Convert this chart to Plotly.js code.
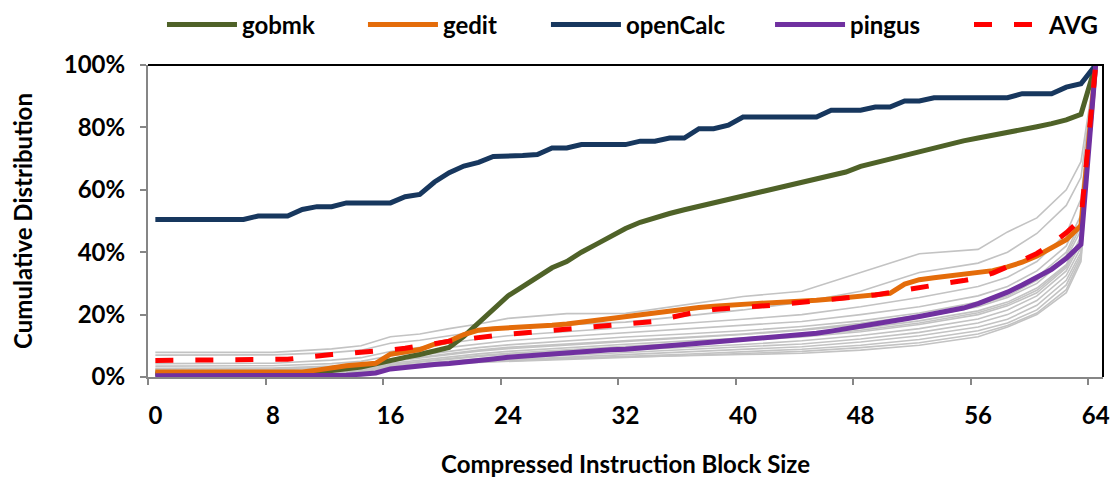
<!DOCTYPE html>
<html><head><meta charset="utf-8">
<script src="https://cdn.plot.ly/plotly-3.0.1.min.js"></script>
<style>html,body{margin:0;padding:0;background:#fff}</style>
</head><body><div id="chart" style="width:1111px;height:478px"></div>
<script>
// Compressed instruction block size categories
const blockSizes = [0,1,2,3,4,5,6,7,8,9,10,11,12,13,14,15,16,17,18,19,20,21,22,23,24,25,26,27,28,29,30,31,32,33,34,35,36,37,38,39,40,41,42,43,44,45,46,47,48,49,50,51,52,53,54,55,56,57,58,59,60,61,62,63,64];
const xTickVals = [0,8,16,24,32,40,48,56,64];
const yTickVals = [0,20,40,60,80,100];
const yTickText = ['0%','20%','40%','60%','80%','100%'];

const gobmk = [1.0,1.0,1.0,1.0,1.0,1.0,1.0,1.0,1.0,1.0,1.0,
  1.5,2.0,2.6,3.2,4.2,5.4,6.3,7.2,8.2,9.5,
  13.0,17.5,21.5,26.0,29.0,32.1,35.0,37.0,40.0,42.5,
  45.0,47.6,49.6,51.2,52.4,53.6,54.7,56.0,57.0,58.0,
  59.0,60.0,61.2,62.3,63.3,64.6,65.7,67.5,68.7,70.0,
  71.2,72.5,73.7,74.7,75.7,76.6,77.4,78.2,79.2,80.2,
  81.2,82.4,84.2,100];
const gedit = [1.6,1.6,1.6,1.6,1.6,1.6,1.6,1.6,1.6,1.6,1.6,
  2.2,3.0,3.6,4.0,4.4,7.3,8.0,8.8,10.5,11.5,
  13.6,15.0,15.5,15.7,16.0,16.2,16.6,17.0,17.6,18.3,
  19.0,19.5,20.0,20.5,21.2,21.8,22.3,22.7,23.1,23.4,
  23.6,23.8,24.0,24.3,24.6,25.0,25.4,25.8,26.2,26.8,
  29.8,31.2,31.8,32.3,32.8,33.3,34.1,35.3,36.8,38.8,
  41.2,44.0,48.5,100];
const openCalc = [50.5,50.5,50.5,50.5,50.5,50.5,50.5,
  51.6,51.6,51.6,
  53.7,54.6,54.6,
  55.8,55.8,55.8,55.8,
  57.8,58.5,62.5,65.5,67.6,68.8,70.7,70.7,71.0,71.3,
  73.4,73.4,74.5,74.5,74.5,74.5,75.6,75.6,76.6,76.6,
  79.6,79.6,80.7,83.3,83.3,83.3,83.3,83.3,83.3,
  85.5,85.5,85.5,86.5,86.5,88.5,88.5,
  89.5,89.5,89.5,89.5,89.5,89.5,
  90.8,90.8,90.8,92.9,94.0,100];
const pingus = [0.4,0.4,0.4,0.4,0.4,0.4,0.4,0.4,0.4,0.4,0.4,0.4,0.4,
  0.6,0.9,1.3,2.6,3.2,3.6,4.0,4.3,4.7,5.1,
  5.8,6.3,6.7,7.1,7.5,7.9,8.2,8.5,8.7,8.9,
  9.2,9.5,9.9,10.4,10.8,11.2,11.6,12.0,12.3,12.6,
  13.0,13.4,14.0,14.7,15.4,16.2,16.9,17.7,18.6,19.4,
  20.2,21.1,22.1,23.5,25.2,27.2,29.5,32.0,34.5,38.0,
  42.5,100];
const avg = [5.3,5.3,5.3,5.3,5.3,5.3,5.3,5.3,5.3,
  5.7,6.2,6.8,7.2,7.5,7.8,8.2,8.7,9.2,9.8,
  10.7,11.5,12.2,12.6,13.2,13.7,14.1,14.6,15.0,15.4,
  15.8,16.4,16.9,17.2,17.4,17.8,19.0,20.2,21.0,21.6,
  22.1,22.4,22.7,23.0,23.4,23.8,24.2,24.7,25.3,25.8,
  26.3,27.0,28.0,28.8,29.5,30.2,30.9,31.8,33.3,35.2,
  37.4,39.6,42.6,46.2,50.5,100];

// Other benchmarks (grey), read at these block sizes
const otherSizes = [0,8,12,14,16,18,20,22,24,28,32,36,40,44,48,52,56,58,60,62,63,64];
const other01 = [7.9,7.9,9.0,10.0,12.9,13.8,15.5,17.0,18.8,20.3,20.4,23.2,25.8,27.5,33.6,39.5,40.9,46.5,51.0,60.0,69.0,100];
const other02 = [7.0,7.1,7.8,8.6,10.8,11.8,13.2,14.5,15.8,16.8,17.6,19.5,21.5,24.0,27.5,33.5,36.5,40.0,46.0,55.0,64.0,100];
const other03 = [4.3,4.4,5.4,6.2,8.2,9.6,11.0,12.2,13.2,14.5,15.8,17.0,18.5,20.0,22.5,25.5,29.0,32.0,37.0,46.0,57.0,100];
const other04 = [3.5,3.6,4.3,5.0,6.8,8.0,9.5,10.6,11.6,13.0,14.2,15.2,16.4,17.8,20.0,22.5,26.0,29.0,34.0,42.0,52.0,100];
const other05 = [2.8,2.9,3.5,4.1,5.8,7.0,8.3,9.4,10.3,11.6,12.8,13.8,14.8,16.2,18.0,20.5,24.0,27.0,32.0,40.0,50.0,100];
const other06 = [2.2,2.3,2.8,3.4,5.0,6.1,7.3,8.3,9.1,10.3,11.5,12.5,13.6,15.0,16.8,19.0,22.5,25.5,30.0,38.0,47.0,100];
const other07 = [1.8,1.9,2.3,2.9,4.4,5.4,6.5,7.4,8.2,9.4,10.5,11.5,12.5,13.8,15.6,18.0,21.2,24.0,28.5,36.0,45.0,100];
const other08 = [1.5,1.6,2.0,2.5,3.9,4.8,5.8,6.6,7.3,8.4,9.4,10.4,11.5,12.8,14.5,16.8,20.0,22.8,27.0,35.0,44.0,100];
const other09 = [1.3,1.4,1.7,2.1,3.5,4.3,5.2,5.9,6.6,7.6,8.5,9.4,10.4,11.6,13.3,15.5,18.6,21.5,26.0,34.0,43.0,100];
const other10 = [1.1,1.2,1.5,1.9,3.2,4.0,4.8,5.4,6.0,6.9,7.7,8.6,9.5,10.6,12.2,14.3,17.3,20.0,24.5,32.5,41.5,100];
const other11 = [1.0,1.0,1.3,1.7,3.0,3.7,4.5,5.0,5.5,6.3,7.1,7.9,8.7,9.7,11.2,13.2,16.0,18.5,23.0,31.0,40.0,100];
const other12 = [0.8,0.9,1.1,1.5,2.8,3.5,4.3,4.8,5.2,5.9,6.6,7.3,8.0,8.9,10.2,12.0,14.8,17.3,21.5,29.5,39.0,100];
const other13 = [0.7,0.8,1.0,1.4,2.7,3.4,4.2,4.7,5.0,5.6,6.2,6.8,7.4,8.2,9.4,11.0,13.8,16.5,20.5,28.0,38.0,100];
const other14 = [1.2,1.3,1.6,2.0,3.3,4.1,4.9,5.3,5.7,6.0,6.3,6.8,7.2,7.6,8.6,10.2,12.9,16.0,20.0,27.0,37.0,100];
const other15 = [2.5,2.6,3.1,3.7,5.2,6.4,7.6,8.6,9.5,10.6,11.8,12.8,13.8,15.2,17.2,19.8,23.0,26.0,31.0,39.0,48.5,100];
const other16 = [1.6,1.7,2.1,2.6,4.0,5.0,6.0,6.9,7.6,8.8,9.8,10.8,11.8,13.2,15.0,17.3,20.6,23.4,27.8,35.5,44.5,100];
const others = [other01,other02,other03,other04,other05,other06,other07,other08,other09,other10,other11,other12,other13,other14,other15,other16];

const FONT = "Lato, 'Roboto', sans-serif";

const traces = [];
others.forEach(function(vals){
  traces.push({x: otherSizes, y: vals, type:'scatter', mode:'lines',
    line:{color:'#c3c3c3', width:1.6}, showlegend:false, hoverinfo:'skip'});
});
traces.push({x: blockSizes, y: gobmk, name:'gobmk', legend:'legend', type:'scatter', mode:'lines', line:{color:'#4f6228', width:5}});
traces.push({x: blockSizes, y: gedit, name:'gedit', legend:'legend2', type:'scatter', mode:'lines', line:{color:'#e46c0a', width:5}});
traces.push({x: blockSizes, y: openCalc, name:'openCalc', legend:'legend3', type:'scatter', mode:'lines', line:{color:'#17375e', width:5}});
traces.push({x: blockSizes, y: pingus, name:'pingus', legend:'legend4', type:'scatter', mode:'lines', line:{color:'#7030a0', width:5}});
traces.push({x: blockSizes, y: avg, name:'AVG', legend:'legend5', type:'scatter', mode:'lines', line:{color:'#ff0000', width:5, dash:'18px,22px'}});

function legendAt(xFrac){
  return {orientation:'h', xref:'container', yref:'container', x:xFrac, xanchor:'left', y:0.948, yanchor:'middle',
    font:{family:FONT, size:24, color:'#000', weight:'bold'}, itemwidth:70, bgcolor:'rgba(0,0,0,0)'};
}

const layout = {
  width:1111, height:478,
  margin:{l:148, r:8, t:65, b:101},
  paper_bgcolor:'#ffffff', plot_bgcolor:'#ffffff',
  font:{family:FONT, size:24, color:'#000000', weight:'bold'},
  showlegend:true,
  legend:legendAt(0.1458),
  legend2:legendAt(0.3267),
  legend3:legendAt(0.4914),
  legend4:legendAt(0.6931),
  legend5:legendAt(0.8722),
  xaxis:{range:[-0.5,64.5], tickmode:'array', tickvals:xTickVals, ticks:'', showline:true, linecolor:'#868686', linewidth:2,
    showgrid:false, zeroline:false, ticklabelstandoff:16,
    tickfont:{family:FONT, size:24, weight:'bold'},
    minor:{tickmode:'linear', tick0:-0.5, dtick:8, ticks:'outside', ticklen:6, tickcolor:'#868686', tickwidth:2, showgrid:false},
    title:{text:'Compressed Instruction Block Size', font:{family:FONT, size:24, weight:'bold'}, standoff:42}},
  yaxis:{range:[0,100], tickmode:'array', tickvals:yTickVals, ticktext:yTickText, ticks:'outside', ticklen:6, tickcolor:'#868686', tickwidth:2,
    showline:true, linecolor:'#868686', linewidth:2, showgrid:false, zeroline:false, ticklabelstandoff:10,
    tickfont:{family:FONT, size:24, weight:'bold'},
    title:{text:'Cumulative Distribution', font:{family:FONT, size:24, weight:'bold'}, standoff:24}},
  shapes:[{type:'path', xref:'paper', yref:'paper', path:'M0,1 L1,1 L1,0', line:{color:'#000000', width:2}}]
};
Plotly.newPlot('chart', traces, layout, {displayModeBar:false, staticPlot:true});
</script></body></html>
